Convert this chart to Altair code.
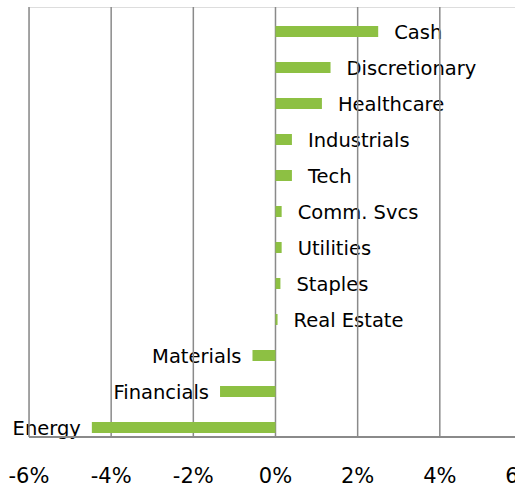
import altair as alt
import pandas as pd

categories = ["Cash", "Discretionary", "Healthcare", "Industrials", "Tech",
              "Comm. Svcs", "Utilities", "Staples", "Real Estate",
              "Materials", "Financials", "Energy"]
values = [2.5, 1.34, 1.13, 0.40, 0.40, 0.15, 0.15, 0.12, 0.05, -0.56, -1.35, -4.47]
tick_values = [-6, -4, -2, 0, 2, 4, 6]
tick_labels = ["-6%", "-4%", "-2%", "0%", "2%", "4%", "6%"]

df = pd.DataFrame({"cat": categories, "val": values})
grid_df = pd.DataFrame({"t": tick_values, "lab": tick_labels})

FONT = "DejaVu Sans"
xscale = alt.Scale(domain=[-6, 5.83], nice=False, zero=False)
yscale = alt.Scale(paddingInner=0.694, paddingOuter=0.319, align=0.826)


def X(field):
    return alt.X(field, scale=xscale, axis=None)


yenc = alt.Y("cat:N", sort=categories, scale=yscale, axis=None)

base = alt.Chart(df)

bars = base.mark_bar(color="#8DC043").encode(x=X("val:Q"), x2=alt.datum(0), y=yenc)

text_pos = base.transform_filter("datum.val >= 0").mark_text(
    align="left", baseline="middle", dx=16, dy=2, font=FONT, fontSize=19.5, color="#000000"
).encode(x=X("val:Q"), y=yenc, text="cat:N")

text_neg = base.transform_filter("datum.val < 0").mark_text(
    align="right", baseline="middle", dx=-11, dy=2, font=FONT, fontSize=19.5, color="#000000"
).encode(x=X("val:Q"), y=yenc, text="cat:N")

grid = alt.Chart(grid_df).mark_rule(color="#8a8a8a", strokeWidth=1.5).encode(
    x=X("t:Q"), y=alt.value(0), y2=alt.value(430))

baseline = alt.Chart(grid_df).mark_rule(color="#8a8a8a", strokeWidth=2).encode(
    x=alt.value(0), x2=alt.value(500), y=alt.value(430))

tick_text = alt.Chart(grid_df).mark_text(
    align="center", baseline="top", font=FONT, fontSize=21, color="#000000"
).encode(x=X("t:Q"), y=alt.value(459), text="lab:N")

chart = alt.layer(text_pos, text_neg, grid, baseline, bars, tick_text).properties(
    width=486, height=430,
    padding={"left": 29, "top": 7, "right": 0, "bottom": 50},
    autosize=alt.AutoSizeParams(type="none"),
).configure_view(stroke=None).configure(background="white")

chart.save("out.html", embed_options={"renderer": "svg", "actions": False})
